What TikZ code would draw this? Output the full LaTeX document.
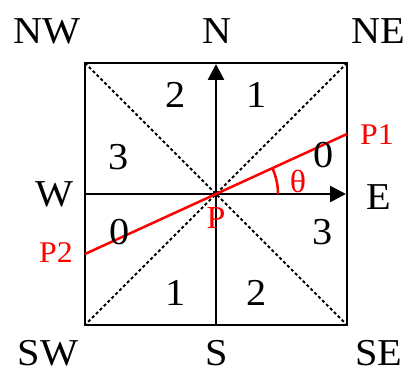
\documentclass[tikz,border=0pt]{standalone}
\usepackage{fontspec}
\setmainfont{Liberation Serif}
\newfontfamily\widefont[FakeStretch=1.06]{Liberation Serif}
\usetikzlibrary{arrows.meta}
\begin{document}
\begin{tikzpicture}[x=1pt,y=-1pt,
  lbl/.style={font=\widefont\fontsize{38}{38}\selectfont, inner sep=0pt},
  num/.style={font=\widefont\fontsize{38}{38}\selectfont, inner sep=0pt},
  rlbl/.style={text=red, font=\widefont\fontsize{30}{30}\selectfont, inner sep=0pt},
  frame/.style={line width=2.8pt},
  diag/.style={line width=2pt, dash pattern=on 3pt off 2.5pt},
  axis/.style={line width=2.5pt, -{Triangle[length=16pt,width=16pt]}},
  redline/.style={red, line width=2.5pt}]
\useasboundingbox (0,0) rectangle (406,374);
% corners and points
\coordinate (c-nw) at (85,63);
\coordinate (c-ne) at (347,63);
\coordinate (c-se) at (347,325);
\coordinate (c-sw) at (85,325);
\coordinate (P) at (216,194);
\coordinate (top) at (216,64);
\coordinate (bot) at (216,325);
\coordinate (left) at (85,194);
\coordinate (right) at (346,194);
\coordinate (P1) at (347,134);
\coordinate (P2) at (85,254);
% diagonals
\draw[diag] (c-nw) -- (c-se);
\draw[diag] (c-ne) -- (c-sw);
% frame
\draw[frame] (c-nw) -- (c-ne) -- (c-se) -- (c-sw) -- cycle;
% axes
\draw[axis] (bot) -- (top);
\draw[axis] (left) -- (right);
% red line and angle
\draw[redline] (P2) -- (P1);
\draw[redline] ([xshift=62pt]P) arc[start angle=0, end angle=-24.6, radius=62];
% compass labels
\node[lbl] (lNW) at (47,31) {NW};
\node[lbl] (lN) at (217,31) {N};
\node[lbl] (lNE) at (378,31) {NE};
\node[lbl] (lW) at (55,194) {W};
\node[lbl] (lE) at (379,197) {E};
\node[lbl] (lSW) at (48,353) {SW};
\node[lbl] (lS) at (217,353) {S};
\node[lbl] (lSE) at (379,353) {SE};
% sector numbers
\node[num] (n2a) at (176,95) {2};
\node[num] (n1a) at (257,95) {1};
\node[num] (n3a) at (119,157) {3};
\node[num] (n0a) at (324,155) {0};
\node[num] (n0b) at (120,232) {0};
\node[num] (n3b) at (323,232) {3};
\node[num] (n1b) at (176,293) {1};
\node[num] (n2b) at (257,293) {2};
% red labels
\node[rlbl] (lP1) at (377,135) {P1};
\node[rlbl, font=\widefont\fontsize{32}{32}\selectfont] (lP) at (216,218) {P};
\node[rlbl] (lP2) at (56,253) {P2};
\node[rlbl, font=\widefont\fontsize{32}{32}\selectfont] (lth) at (298,181) {θ};
\end{tikzpicture}
\end{document}
